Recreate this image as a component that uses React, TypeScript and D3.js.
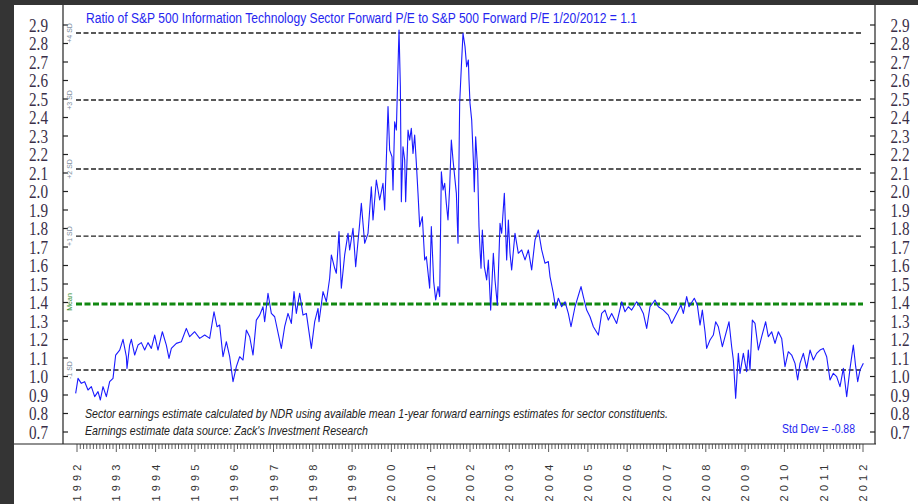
import React from 'react';
import * as d3 from 'd3';

const ratio1992to1997: [number, number][] = [
  [1991.966,0.909],[1992.026,0.990],[1992.110,0.963],[1992.195,0.972],[1992.280,0.927],[1992.365,0.945],[1992.450,0.891],[1992.535,0.918],[1992.594,0.873],[1992.662,0.945],[1992.747,0.891],[1992.831,0.972],[1992.916,0.990],[1992.984,1.116],[1993.086,1.143],[1993.171,1.201],[1993.256,1.107],[1993.272,1.044],[1993.340,1.170],[1993.383,1.201],[1993.468,1.116],[1993.552,1.170],[1993.637,1.183],[1993.722,1.143],[1993.807,1.183],[1993.892,1.152],[1993.977,1.224],[1994.061,1.143],[1994.172,1.242],[1994.273,1.170],[1994.341,1.098],[1994.401,1.152],[1994.528,1.179],[1994.655,1.188],[1994.782,1.260],[1994.867,1.215],[1994.994,1.242],[1995.122,1.206],[1995.249,1.224],[1995.376,1.206],[1995.486,1.350],[1995.563,1.269],[1995.630,1.278],[1995.715,1.107],[1995.800,1.188],[1995.885,1.107],[1995.970,0.972],[1996.055,1.053],[1996.139,1.107],[1996.224,1.089],[1996.309,1.251],[1996.394,1.215],[1996.479,1.116],[1996.563,1.305],[1996.648,1.332],[1996.733,1.377],[1996.775,1.296],[1996.860,1.450],[1996.945,1.341],[1997.030,1.323],[1997.199,1.152],[1997.284,1.269],[1997.369,1.341],[1997.454,1.287],[1997.522,1.459],[1997.581,1.341],[1997.666,1.450],[1997.751,1.332],[1997.836,1.341]
];
const ratio1998to2001: [number, number][] = [
  [1997.963,1.152],[1998.048,1.296],[1998.133,1.368],[1998.158,1.296],[1998.260,1.459],[1998.345,1.404],[1998.429,1.531],[1998.472,1.657],[1998.557,1.585],[1998.599,1.558],[1998.667,1.783],[1998.726,1.477],[1998.811,1.657],[1998.896,1.774],[1998.938,1.684],[1999.023,1.801],[1999.091,1.594],[1999.193,1.828],[1999.235,1.936],[1999.320,1.720],[1999.405,1.774],[1999.490,2.026],[1999.532,1.846],[1999.617,2.062],[1999.702,1.954],[1999.786,2.044],[1999.829,1.900],[1999.871,2.170],[1999.914,2.459],[1999.956,2.224],[2000.015,2.188],[2000.041,2.008],[2000.083,2.377],[2000.126,2.332],[2000.168,2.675],[2000.194,2.873],[2000.228,2.567],[2000.253,1.945],[2000.295,2.242],[2000.338,2.170],[2000.363,1.945],[2000.423,2.332],[2000.465,2.278],[2000.507,2.341],[2000.550,2.206],[2000.592,2.305],[2000.635,2.152],[2000.677,1.990],[2000.720,1.810],[2000.787,1.864],[2000.847,1.630],[2000.889,1.648],[2000.974,1.477],[2001.016,1.810],[2001.076,1.513],[2001.127,1.414],[2001.186,1.486],[2001.228,1.432],[2001.271,2.107],[2001.313,2.008],[2001.356,2.044],[2001.398,1.936],[2001.440,1.846],[2001.483,2.026],[2001.525,2.278],[2001.568,2.170],[2001.653,1.990],[2001.695,1.720],[2001.737,2.477],[2001.780,2.675],[2001.822,2.855]
];
const ratio2002to2006: [number, number][] = [
  [2001.873,2.783],[2001.915,2.675],[2001.958,2.711],[2001.975,2.603],[2002.000,2.477],[2002.043,2.386],[2002.085,2.170],[2002.110,1.999],[2002.144,2.296],[2002.195,2.116],[2002.229,1.810],[2002.255,1.684],[2002.280,1.585],[2002.314,1.792],[2002.365,1.594],[2002.424,1.522],[2002.467,1.630],[2002.526,1.359],[2002.594,1.666],[2002.636,1.522],[2002.696,1.386],[2002.764,1.828],[2002.806,1.774],[2002.874,1.990],[2002.933,1.630],[2002.976,1.846],[2003.018,1.666],[2003.060,1.576],[2003.145,1.774],[2003.230,1.666],[2003.315,1.684],[2003.400,1.630],[2003.485,1.684],[2003.569,1.576],[2003.654,1.738],[2003.739,1.792],[2003.824,1.684],[2003.909,1.612],[2003.993,1.621],[2004.036,1.540],[2004.121,1.450],[2004.180,1.368],[2004.248,1.423],[2004.333,1.377],[2004.418,1.404],[2004.502,1.341],[2004.570,1.269],[2004.672,1.377],[2004.825,1.486],[2004.884,1.432],[2004.969,1.359],[2005.054,1.323],[2005.139,1.269],[2005.266,1.224],[2005.351,1.341],[2005.435,1.359],[2005.520,1.305],[2005.605,1.341],[2005.732,1.287],[2005.860,1.404],[2005.944,1.350],[2006.029,1.377],[2006.114,1.359],[2006.241,1.404],[2006.326,1.377],[2006.411,1.341],[2006.496,1.260],[2006.580,1.377],[2006.708,1.413],[2006.792,1.377],[2006.920,1.359]
];
const ratio2007to2012: [number, number][] = [
  [2007.047,1.332],[2007.132,1.287],[2007.259,1.341],[2007.369,1.386],[2007.429,1.341],[2007.513,1.432],[2007.573,1.377],[2007.708,1.423],[2007.785,1.386],[2007.853,1.278],[2007.912,1.359],[2007.980,1.242],[2008.022,1.152],[2008.107,1.197],[2008.192,1.224],[2008.251,1.296],[2008.319,1.269],[2008.421,1.161],[2008.489,1.215],[2008.591,1.296],[2008.658,1.161],[2008.701,1.089],[2008.760,0.882],[2008.828,1.125],[2008.871,1.017],[2008.955,1.125],[2009.040,1.026],[2009.082,1.143],[2009.125,1.035],[2009.184,1.305],[2009.252,1.287],[2009.337,1.143],[2009.422,1.215],[2009.523,1.296],[2009.591,1.215],[2009.676,1.242],[2009.761,1.179],[2009.846,1.242],[2009.931,1.206],[2010.015,1.053],[2010.100,1.134],[2010.185,1.116],[2010.270,1.071],[2010.338,0.981],[2010.397,1.071],[2010.482,1.125],[2010.567,1.044],[2010.652,1.143],[2010.736,1.089],[2010.821,1.125],[2010.906,1.143],[2010.991,1.152],[2011.076,1.107],[2011.161,0.981],[2011.245,1.017],[2011.330,0.999],[2011.415,0.945],[2011.500,1.044],[2011.585,0.891],[2011.670,1.044],[2011.754,1.170],[2011.814,1.053],[2011.865,0.972],[2011.924,1.035],[2012.009,1.071]
];

const yTicks = [0.7,0.8,0.9,1.0,1.1,1.2,1.3,1.4,1.5,1.6,1.7,1.8,1.9,2.0,2.1,2.2,2.3,2.4,2.5,2.6,2.7,2.8,2.9];
const yearLabels = ['1992','1993','1994','1995','1996','1997','1998','1999','2000','2001','2002','2003','2004','2005','2006','2007','2008','2009','2010','2011','2012'];
const sdLevels = [2.857, 2.495, 2.122, 1.759, 1.035];
const sdLabels = ['+4 SD', '+3 SD', '+2 SD', '+1 SD', '-1 SD'];
const meanLevel = 1.392;
const titleText = 'Ratio of S&P 500 Information Technology Sector Forward P/E to S&P 500 Forward P/E 1/20/2012 = 1.1';
const noteLines = [
  'Sector earnings estimate calculated by NDR using available mean 1-year forward earnings estimates for sector constituents.',
  "Earnings estimate data source: Zack's Investment Research",
];
const stdDevText = 'Std Dev = -0.88';

export default function App() {
  const W = 918, H = 504;
  const x = d3.scaleLinear().domain([1992, 2012]).range([77, 863]);
  const y = d3.scaleLinear().domain([0.7, 2.9]).range([432, 25]);
  const all = [...ratio1992to1997, ...ratio1998to2001, ...ratio2002to2006, ...ratio2007to2012];
  const lineGen = d3.line<[number, number]>().x(d => x(d[0])).y(d => y(d[1]));
  const months = d3.range(0, 241);
  const sans = "'Liberation Sans Narrow', 'Liberation Sans', Arial, sans-serif";
  const serif = "'Liberation Serif', 'DejaVu Serif', serif";
  const axisY = 444;
  return (
    <svg width={W} height={H} style={{ position: 'absolute', left: 0, top: 0, display: 'block' }}>
      <rect x={0} y={0} width={W} height={H} fill="#343434" />
      <rect x={14} y={5} width={W - 14} height={H - 5} fill="#ffffff" />
      <line x1={63} y1={5} x2={63} y2={axisY} stroke="#222" strokeWidth={1.2} />
      <line x1={875} y1={5} x2={875} y2={axisY} stroke="#222" strokeWidth={1.2} />
      <line x1={14} y1={axisY} x2={876} y2={axisY} stroke="#222" strokeWidth={1.2} />
      {yTicks.map(v => (
        <g key={'t' + v}>
          <line x1={63} x2={68} y1={y(v)} y2={y(v)} stroke="#222" strokeWidth={1.2} />
          <line x1={870} x2={875} y1={y(v)} y2={y(v)} stroke="#222" strokeWidth={1.2} />
          <text x={38.5} y={y(v) + 6.5} textAnchor="middle" fontFamily={serif} fontSize={19} fill="#3a2f48"
            textLength={19} lengthAdjust="spacingAndGlyphs">{v.toFixed(1)}</text>
          <text x={900} y={y(v) + 6.5} textAnchor="middle" fontFamily={serif} fontSize={19} fill="#3a2f48"
            textLength={19} lengthAdjust="spacingAndGlyphs">{v.toFixed(1)}</text>
        </g>
      ))}
      {sdLevels.map((v, i) => (
        <g key={'sd' + i}>
          <line x1={76} x2={863} y1={y(v)} y2={y(v)} stroke="#222" strokeWidth={1.4} strokeDasharray="5,2.5" />
          <text transform={`translate(72,${y(v)}) rotate(-90)`} textAnchor="middle" fontFamily={sans}
            fontSize={7} fill="#7d8ea0">{sdLabels[i]}</text>
        </g>
      ))}
      <line x1={76} x2={863} y1={y(meanLevel)} y2={y(meanLevel)} stroke="#118811" strokeWidth={3} strokeDasharray="6,2.5" />
      <text transform={`translate(72,${y(meanLevel) - 2}) rotate(-90)`} textAnchor="middle" fontFamily={sans}
        fontSize={7} fill="#2e8b2e">Mean</text>
      <path d={lineGen(all) || ''} fill="none" stroke="#1a1aff" strokeWidth={1.1} strokeLinejoin="round" />
      <text x={86} y={23} fontFamily={sans} fontSize={14} fill="#2626f0" textLength={551}
        lengthAdjust="spacingAndGlyphs">{titleText}</text>
      <text x={85} y={418} fontFamily={sans} fontSize={13} fontStyle="italic" fill="#222" textLength={583}
        lengthAdjust="spacingAndGlyphs">{noteLines[0]}</text>
      <text x={85} y={435} fontFamily={sans} fontSize={13} fontStyle="italic" fill="#222" textLength={283}
        lengthAdjust="spacingAndGlyphs">{noteLines[1]}</text>
      <text x={855} y={433} textAnchor="end" fontFamily={sans} fontSize={13} fill="#2626f0" textLength={73}
        lengthAdjust="spacingAndGlyphs">{stdDevText}</text>
      {months.map(m => (
        <line key={'m' + m} x1={x(1992 + m / 12)} x2={x(1992 + m / 12)} y1={axisY}
          y2={axisY + (m % 12 === 0 ? 8 : 5)} stroke="#333" strokeWidth={0.8} />
      ))}
      {yearLabels.map((lab, i) => (
        <text key={lab} transform={`translate(${x(1992 + i) + 4},483) rotate(-90)`} textAnchor="middle"
          fontFamily="'Liberation Sans', Arial, sans-serif" fontSize={11} fill="#333" textLength={37}
          lengthAdjust="spacing">{lab}</text>
      ))}
    </svg>
  );
}
